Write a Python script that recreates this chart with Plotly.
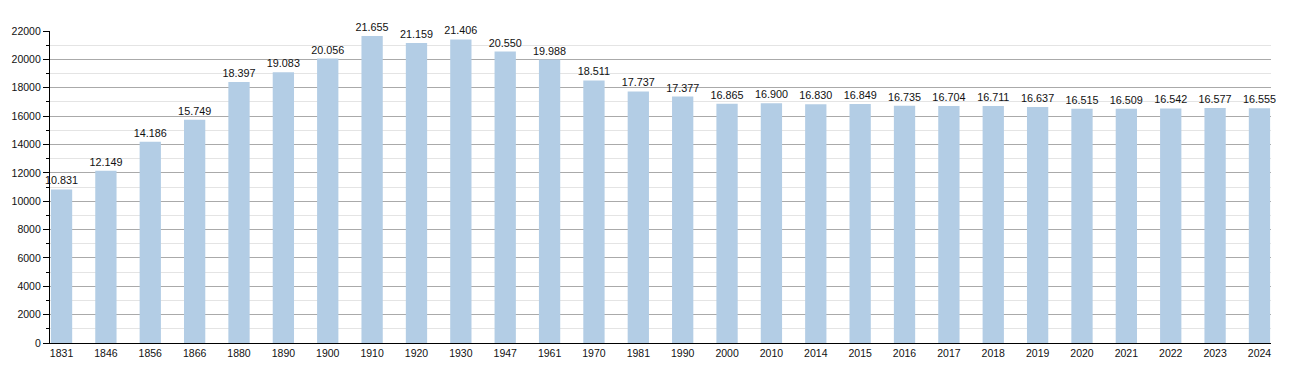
import plotly.graph_objects as go

years = ["1831","1846","1856","1866","1880","1890","1900","1910","1920","1930","1947","1961","1970","1981","1990","2000","2010","2014","2015","2016","2017","2018","2019","2020","2021","2022","2023","2024"]
population = [10831,12149,14186,15749,18397,19083,20056,21655,21159,21406,20550,19988,18511,17737,17377,16865,16900,16830,16849,16735,16704,16711,16637,16515,16509,16542,16577,16555]

labels = [f"{v:,}".replace(",", ".") for v in population]

fig = go.Figure(go.Bar(
    x=years, y=population, text=labels, textposition="outside",
    constraintext="none",
    textfont=dict(size=10.8, color="#111", family="Liberation Sans, Arial, sans-serif"),
    marker=dict(color="#b3cde5", line=dict(width=0)),
    width=0.48, cliponaxis=False, hoverinfo="skip",
))

fig.update_layout(
    width=1300, height=373,
    margin=dict(l=50, r=29, t=31, b=30, autoexpand=False),
    paper_bgcolor="white", plot_bgcolor="white",
    font=dict(family="Liberation Sans, Arial, sans-serif", size=10.5, color="#111"),
    showlegend=False,
    xaxis=dict(type="category", range=[-0.26, len(years) - 0.74],
               showline=True, linecolor="#000", linewidth=1.3,
               ticks="", showgrid=False, tickfont=dict(size=10.5), automargin=False),
    yaxis=dict(range=[0, 22000], dtick=2000, tick0=0, tickformat="d",
               showline=True, linecolor="#000", linewidth=1.3,
               ticks="outside", ticklen=6, tickcolor="#000",
               showgrid=True, gridcolor="#aaaaaa", gridwidth=1,
               minor=dict(dtick=1000, showgrid=True, gridcolor="#e4e4e4",
                          ticks="outside", ticklen=3, tickcolor="#000"),
               tickfont=dict(size=10.5), zeroline=False, automargin=False),
)

fig.write_html("out.html", config={"displayModeBar": False},
               post_script="document.body.style.margin='0';document.body.style.overflow='hidden';")
